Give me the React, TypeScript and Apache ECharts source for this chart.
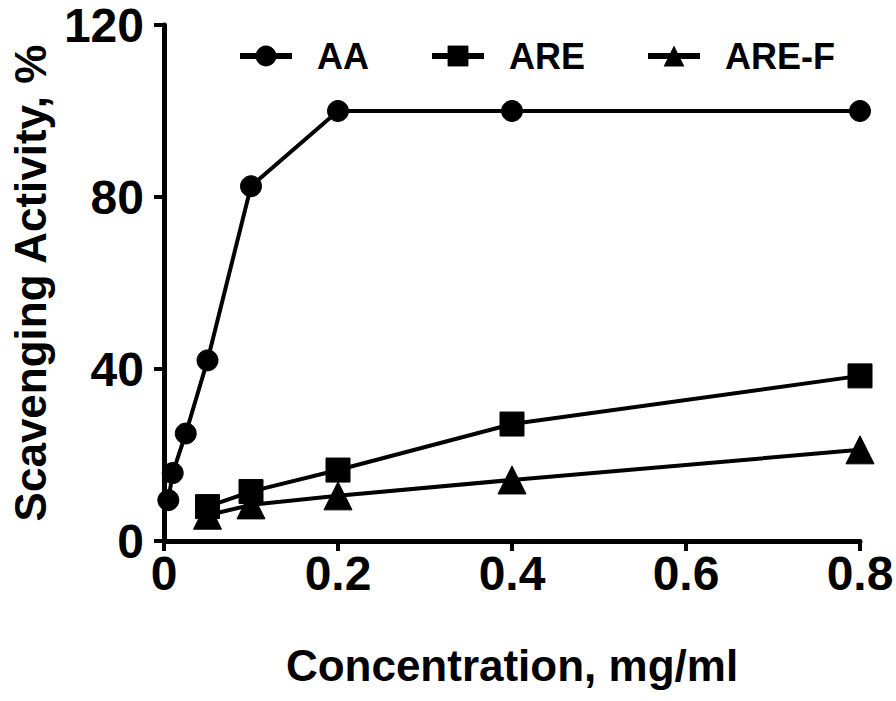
import React, { useEffect, useRef } from "react";
import * as echarts from "echarts";

const seriesNames = ["AA", "ARE", "ARE-F"];
const aaX = [0.005, 0.01, 0.025, 0.05, 0.1, 0.2, 0.4, 0.8];
const aaY = [9.5, 15.8, 25, 42, 82.5, 100, 100, 100];
const areX = [0.05, 0.1, 0.2, 0.4, 0.8];
const areY = [8, 11.5, 16.5, 27.2, 38.4];
const arefX = [0.05, 0.1, 0.2, 0.4, 0.8];
const arefY = [6, 8.4, 10.5, 14.2, 21.2];
const xTicks = [0, 0.2, 0.4, 0.6, 0.8];
const yTicks = [0, 40, 80, 120];

const FONT = "'Liberation Sans', Arial, Helvetica, sans-serif";

function pairs(xs: number[], ys: number[]) {
  return xs.map((x, i) => [x, ys[i]]);
}

export default function App() {
  const ref = useRef<HTMLDivElement>(null);
  useEffect(() => {
    if (!ref.current) return;
    const chart = echarts.init(ref.current, undefined, { renderer: "svg" });
    const lineStyle = { color: "#000", width: 4 };
    const mk = (name: string, data: number[][], symbol: string, size: number) => ({
      name,
      type: "line",
      data,
      symbol,
      symbolSize: size,
      clip: false,
      itemStyle: { color: "#000", borderColor: "#000" },
      lineStyle,
      emphasis: { disabled: true },
    });
    chart.setOption({
      animation: false,
      backgroundColor: "#fff",
      textStyle: { fontFamily: FONT, color: "#000" },
      legend: {
        left: 232,
        top: 33,
        itemWidth: 52,
        itemHeight: 26,
        itemGap: 60,
        data: seriesNames,
        lineStyle: { width: 6, color: "#000" },
        textStyle: {
          fontFamily: FONT,
          fontWeight: "bold",
          fontSize: 36,
          color: "#000",
          padding: [0, 0, 0, 20],
        },
      },
      grid: { left: 164, right: 36, top: 25, bottom: 160, containLabel: false, outerBoundsMode: "none" },
      xAxis: {
        type: "value",
        min: xTicks[0],
        max: xTicks[xTicks.length - 1],
        interval: 0.2,
        name: "Concentration, mg/ml",
        nameLocation: "middle",
        nameGap: 102,
        nameTextStyle: { fontFamily: FONT, fontWeight: "bold", fontSize: 44, color: "#000" },
        axisLine: { show: true, lineStyle: { color: "#000", width: 5 } },
        axisTick: { show: true, length: 10, lineStyle: { color: "#000", width: 4 } },
        axisLabel: {
          fontFamily: FONT,
          fontWeight: "bold",
          fontSize: 48,
          color: "#000",
          margin: 8,
          formatter: (v: number) => (v === 0 ? "0" : String(Math.round(v * 10) / 10)),
        },
        splitLine: { show: false },
      },
      yAxis: {
        type: "value",
        min: yTicks[0],
        max: yTicks[yTicks.length - 1],
        interval: 40,
        name: "Scavenging Activity, %",
        nameLocation: "middle",
        nameGap: 112,
        nameRotate: 90,
        nameTextStyle: { fontFamily: FONT, fontWeight: "bold", fontSize: 44, color: "#000" },
        axisLine: { show: true, lineStyle: { color: "#000", width: 5 } },
        axisTick: { show: true, length: 10, lineStyle: { color: "#000", width: 4 } },
        axisLabel: { fontFamily: FONT, fontWeight: "bold", fontSize: 48, color: "#000", margin: 20 },
        splitLine: { show: false },
      },
      series: [
        mk(seriesNames[0], pairs(aaX, aaY), "circle", 21),
        mk(seriesNames[1], pairs(areX, areY), "rect", 24),
        mk(seriesNames[2], pairs(arefX, arefY), "triangle", 28),
      ],
    });
    return () => chart.dispose();
  }, []);
  return (
    <div
      ref={ref}
      style={{ position: "fixed", left: 0, top: 0, width: 896, height: 701, background: "#fff" }}
    />
  );
}
